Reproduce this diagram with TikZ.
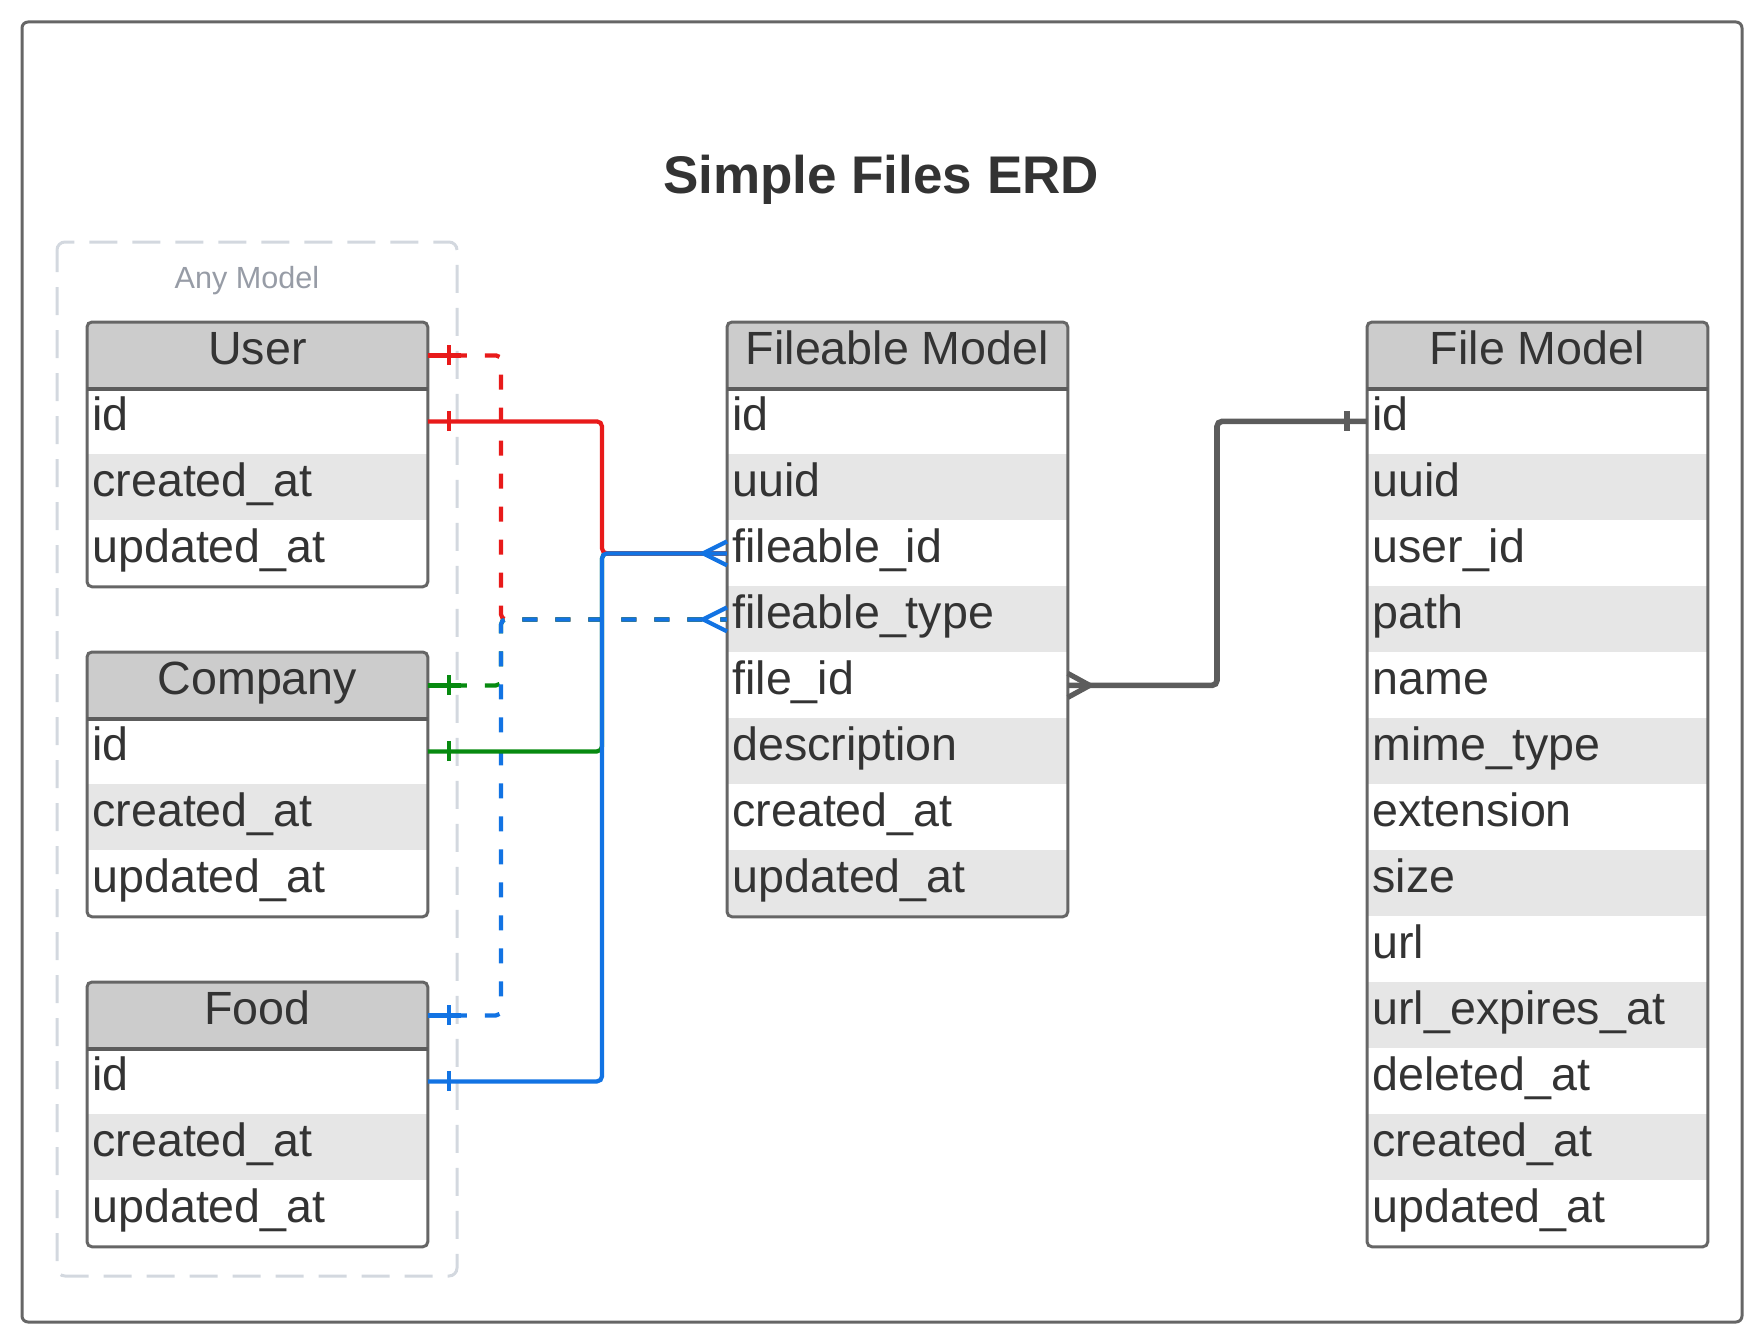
\documentclass[tikz,border=0pt]{standalone}
\usepackage{fontspec}
\setmainfont{Liberation Sans}
\usetikzlibrary{positioning}

\definecolor{ink}{HTML}{333333}
\definecolor{frame}{HTML}{666666}
\definecolor{headfill}{HTML}{CCCCCC}
\definecolor{rowfill}{HTML}{E6E6E6}
\colorlet{row1}{white}
\colorlet{row0}{rowfill}
\definecolor{relred}{HTML}{E81A1A}
\definecolor{relgreen}{HTML}{078A10}
\definecolor{relblue}{HTML}{1273E3}
\definecolor{relgrey}{HTML}{5C5C5C}
\definecolor{groupline}{HTML}{D3D8DF}
\definecolor{grouptext}{HTML}{979CA6}

\begin{document}
\begin{tikzpicture}[x=0.5pt,y=-0.5pt,
  header/.style={fill=headfill,anchor=north west,inner sep=0pt,minimum width=170pt,minimum height=33pt,
    text height=17pt,text depth=8pt,text=ink,font=\fontsize{23.3}{27}\selectfont},
  field/.style={anchor=north west,inner ysep=0pt,inner xsep=2.5pt,text width=165pt,align=left,minimum height=33pt,
    text height=17pt,text depth=8pt,text=ink,font=\fontsize{23.3}{27}\selectfont},
  tablebox/.style={draw=frame,line width=1.5pt,rounded corners=2.5pt},
  headline/.style={draw=frame!90!black,line width=2pt},
  relline/.style={line width=2.1pt,rounded corners=2.5pt},
  reldash/.style={relline,dash pattern=on 7.5pt off 9pt,dash phase=4.5pt},
  crowfoot/.style={line width=2.1pt}]
\useasboundingbox (0,0) rectangle (1763,1343);

% frame and title
\draw[draw=frame,line width=1.5pt,rounded corners=3pt] (22,22) rectangle (1742,1322);
\node[anchor=base,text=ink,font=\fontsize{26.5}{30}\selectfont\bfseries] (title) at (881,193) {Simple Files ERD};

% any model group
\draw[groupline,line width=1.5pt,rounded corners=4pt,dash pattern=on 14pt off 7.5pt,dash phase=3pt] (57,242) rectangle (457,1276);
\node[anchor=base,text=grouptext,font=\fontsize{15.3}{18}\selectfont] (anymodel) at (247,288) {Any Model};

% User
\node[header] (user) at (87,322) {User};
\foreach \f [count=\i, evaluate=\i as \k using {int(mod(\i,2))}] in {id,created\_at,updated\_at}
  \node[field,fill=row\k] (user-\i) at (87,{322+66*\i}) {\f};
\draw[tablebox] (user.north west) rectangle (user-3.south east);
\draw[headline] (user.south west) -- (user.south east);

% Company
\node[header] (company) at (87,652) {Company};
\foreach \f [count=\i, evaluate=\i as \k using {int(mod(\i,2))}] in {id,created\_at,updated\_at}
  \node[field,fill=row\k] (company-\i) at (87,{652+66*\i}) {\f};
\draw[tablebox] (company.north west) rectangle (company-3.south east);
\draw[headline] (company.south west) -- (company.south east);

% Food
\node[header] (food) at (87,982) {Food};
\foreach \f [count=\i, evaluate=\i as \k using {int(mod(\i,2))}] in {id,created\_at,updated\_at}
  \node[field,fill=row\k] (food-\i) at (87,{982+66*\i}) {\f};
\draw[tablebox] (food.north west) rectangle (food-3.south east);
\draw[headline] (food.south west) -- (food.south east);

% Fileable Model
\node[header] (fileable) at (727,322) {Fileable Model};
\foreach \f [count=\i, evaluate=\i as \k using {int(mod(\i,2))}] in {id,uuid,fileable\_id,fileable\_type,file\_id,description,created\_at,updated\_at}
  \node[field,fill=row\k] (fileable-\i) at (727,{322+66*\i}) {\f};
\draw[tablebox] (fileable.north west) rectangle (fileable-8.south east);
\draw[headline] (fileable.south west) -- (fileable.south east);

% File Model
\node[header] (file) at (1367,322) {File Model};
\foreach \f [count=\i, evaluate=\i as \k using {int(mod(\i,2))}] in {id,uuid,user\_id,path,name,mime\_type,extension,size,url,url\_expires\_at,deleted\_at,created\_at,updated\_at}
  \node[field,fill=row\k] (file-\i) at (1367,{322+66*\i}) {\f};
\draw[tablebox] (file.north west) rectangle (file-13.south east);
\draw[headline] (file.south west) -- (file.south east);

\coordinate (dashx) at (501,0);
\coordinate (solidx) at (602,0);
\coordinate (bendx) at (1217,0);

% fileable_type links
\draw[reldash,relred] (user.east) -- (user.east -| dashx) |- (fileable-4.west);
\draw[reldash,relgreen] (company.east) -- (company.east -| dashx) |- (fileable-4.west);
\draw[reldash,relblue] (food.east) -- (food.east -| dashx) |- (fileable-4.west);
\draw[relline,relred] (user.east) -- ++(33,0) ++(-12,-10) -- ++(0,20);
\draw[relline,relgreen] (company.east) -- ++(33,0) ++(-12,-10) -- ++(0,20);
\draw[relline,relblue] (food.east) -- ++(33,0) ++(-12,-10) -- ++(0,20);
\draw[crowfoot,relblue] (fileable-4.west) ++(0,-12) -- ++(-24,12) -- ++(24,12);

% fileable_id links
\draw[relline,relgreen] (company-1.east) -- (company-1.east -| solidx) |- (fileable-3.west);
\draw[relline,relred] (user-1.east) -- (user-1.east -| solidx) |- (fileable-3.west);
\draw[relline,relblue] (food-1.east) -- (food-1.east -| solidx) |- (fileable-3.west);
\draw[relline,relred] (user-1.east) ++(21,-10) -- ++(0,20);
\draw[relline,relgreen] (company-1.east) ++(21,-10) -- ++(0,20);
\draw[relline,relblue] (food-1.east) ++(21,-10) -- ++(0,20);
\draw[crowfoot,relblue] (fileable-3.west) ++(0,-12) -- ++(-24,12) -- ++(24,12);

% file_id link
\draw[relline,relgrey,line width=2.8pt] (fileable-5.east) -- (fileable-5.east -| bendx) |- (file-1.west);
\draw[crowfoot,relgrey,line width=2.6pt] (fileable-5.east) ++(0,-12) -- ++(22,12) -- ++(-22,12);
\draw[relgrey,line width=3pt] (file-1.west) ++(-20,-10) -- ++(0,20);
\end{tikzpicture}
\end{document}
